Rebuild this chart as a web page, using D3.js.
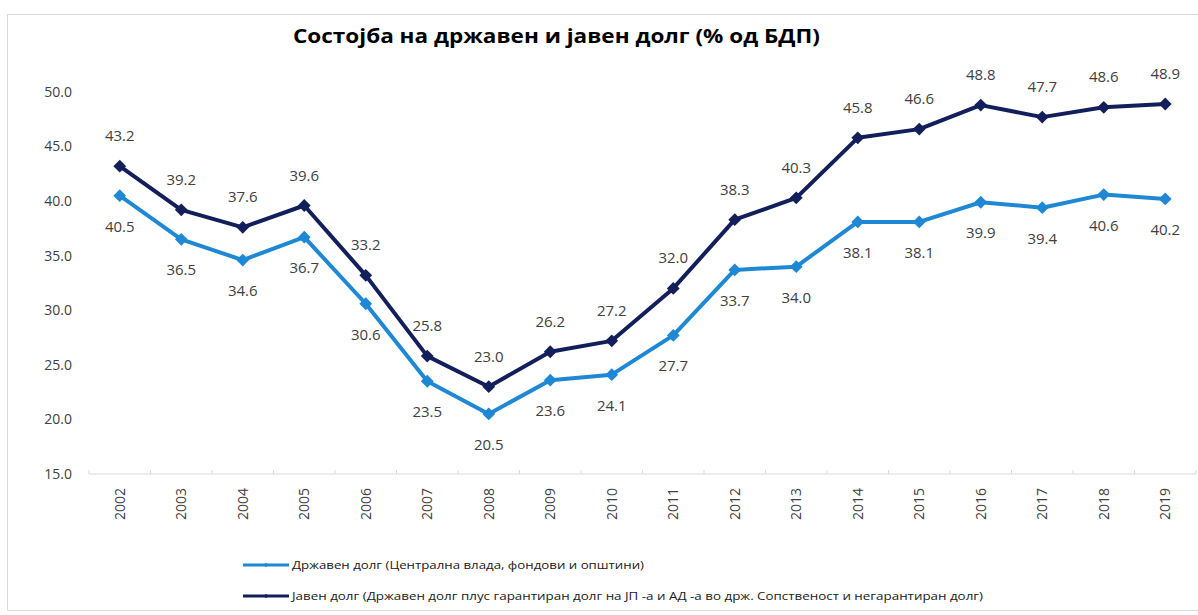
<!DOCTYPE html>
<html>
<head>
<meta charset="utf-8">
<script src="https://cdn.jsdelivr.net/npm/d3@7"></script>
<style>
  body { margin: 0; background: #fff; }
  text { font-family: "Open Sans", "Noto Sans", sans-serif; }
</style>
</head>
<body>
<div id="chart"></div>
<script>
const years = ['2002', '2003', '2004', '2005', '2006', '2007', '2008', '2009', '2010',
  '2011', '2012', '2013', '2014', '2015', '2016', '2017', '2018', '2019'];
const drzavenDolg = [40.5, 36.5, 34.6, 36.7, 30.6, 23.5, 20.5, 23.6, 24.1,
  27.7, 33.7, 34.0, 38.1, 38.1, 39.9, 39.4, 40.6, 40.2];
const javenDolg = [43.2, 39.2, 37.6, 39.6, 33.2, 25.8, 23.0, 26.2, 27.2,
  32.0, 38.3, 40.3, 45.8, 46.6, 48.8, 47.7, 48.6, 48.9];
const yTicks = [15, 20, 25, 30, 35, 40, 45, 50];
const seriesNames = [
  'Државен долг (Централна влада,  фондови и општини)',
  'Јавен долг (Државен  долг плус гарантиран долг на ЈП -а и АД -а во држ. Сопственост и негарантиран  долг)'
];
const title = 'Состојба на државен и јавен долг (% од БДП)';

const width = 1198, height = 615;
const lightBlue = '#1f88d4';
const navy = '#121f5a';
const textColor = '#404040';

const svg = d3.select('#chart').append('svg')
  .attr('width', width)
  .attr('height', height);

// frame
svg.append('rect')
  .attr('x', 7.5).attr('y', 14.5)
  .attr('width', 1195).attr('height', 596)
  .attr('fill', 'none')
  .attr('stroke', '#d9d9d9');

svg.append('text')
  .attr('x', 293).attr('y', 43)
  .attr('font-size', 20)
  .attr('font-weight', 'bold')
  .attr('textLength', 527)
  .attr('lengthAdjust', 'spacingAndGlyphs')
  .attr('fill', '#000')
  .text(title);

const x = d3.scaleBand().domain(years).range([89, 1196]);
const y = d3.scaleLinear().domain([15, 50]).range([474, 92]);

// y labels
svg.append('g')
  .selectAll('text')
  .data(yTicks)
  .join('text')
  .attr('x', 72)
  .attr('y', d => y(d))
  .attr('dy', '0.35em')
  .attr('text-anchor', 'end')
  .attr('font-size', 14)
  .attr('fill', textColor)
  .text(d => d.toFixed(1));

// x axis
const xAxis = svg.append('g')
  .attr('transform', `translate(0,${y(15)})`);
xAxis.append('line')
  .attr('x1', x.range()[0]).attr('x2', x.range()[1])
  .attr('stroke', '#d9d9d9').attr('stroke-width', 1.2);
xAxis.selectAll('.tick')
  .data(years.concat(['end']))
  .join('line')
  .attr('x1', (d, i) => x.range()[0] + i * x.step())
  .attr('x2', (d, i) => x.range()[0] + i * x.step())
  .attr('y1', -4).attr('y2', 0)
  .attr('stroke', '#d9d9d9');
xAxis.selectAll('text')
  .data(years)
  .join('text')
  .attr('transform', d => `translate(${x(d) + x.bandwidth() / 2 + 5},14) rotate(-90)`)
  .attr('text-anchor', 'end')
  .attr('font-size', 14)
  .attr('fill', textColor)
  .text(d => d);

const cx = (d, i) => x(years[i]) + x.bandwidth() / 2;
const line = d3.line().x(cx).y(d => y(d));
const diamond = d3.symbol().type(d3.symbolSquare).size(82);

const series = [
  { name: seriesNames[0], values: drzavenDolg, color: lightBlue, labelDy: 36 },
  { name: seriesNames[1], values: javenDolg, color: navy, labelDy: -25 }
];

series.forEach(s => {
  const g = svg.append('g');
  g.append('path')
    .datum(s.values)
    .attr('d', line)
    .attr('fill', 'none')
    .attr('stroke', s.color)
    .attr('stroke-width', 4)
    .attr('stroke-linejoin', 'round');
  g.selectAll('path.pt')
    .data(s.values)
    .join('path')
    .attr('class', 'pt')
    .attr('d', diamond)
    .attr('transform', (d, i) => `translate(${cx(d, i)},${y(d)}) rotate(45)`)
    .attr('fill', s.color);
  g.selectAll('text')
    .data(s.values)
    .join('text')
    .attr('x', cx)
    .attr('y', d => y(d) + s.labelDy)
    .attr('text-anchor', 'middle')
    .attr('font-size', 15)
    .attr('fill', textColor)
    .text(d => d.toFixed(1));
});

// legend
const legend = svg.append('g');
const legendWidths = [352, 691];
series.forEach((s, i) => {
  const ly = 565 + i * 31;
  legend.append('line')
    .attr('x1', 243).attr('x2', 289)
    .attr('y1', ly).attr('y2', ly)
    .attr('stroke', s.color).attr('stroke-width', 3);
  legend.append('path')
    .attr('d', d3.symbol().type(d3.symbolSquare).size(10))
    .attr('transform', `translate(266,${ly}) rotate(45)`)
    .attr('fill', s.color);
  legend.append('text')
    .attr('x', 292).attr('y', ly + 4)
    .attr('font-size', 11)
    .attr('font-family', '"Liberation Sans Narrow", "Liberation Sans", sans-serif')
    .attr('textLength', legendWidths[i])
    .attr('lengthAdjust', 'spacingAndGlyphs')
    .attr('fill', '#202020')
    .text(s.name);
});
</script>
</body>
</html>
